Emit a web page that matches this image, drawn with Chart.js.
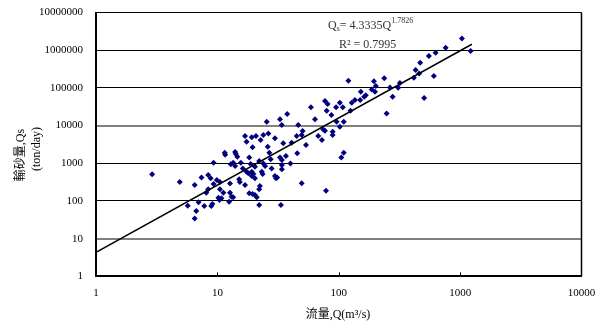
<!DOCTYPE html>
<html lang="zh-Hant">
<head>
<meta charset="UTF-8">
<title>輸砂量與流量關係</title>
<style>
  html, body { margin: 0; padding: 0; background: #fff; }
</style>
</head>
<body>
<canvas id="rating" width="603" height="325"></canvas>

<script src="https://cdn.jsdelivr.net/npm/chart.js"></script>
<script>
  // 流量 Q (m3/s)
  const flowQ = [
    2.9, 4.9, 6.5, 7.4, 8.4, 8.8, 9.3, 9.3, 8.4, 8.1, 5.7, 7.0, 6.7, 6.5, 7.8, 8.9, 9.1,
    11.5, 11.6, 14, 14.2, 14.6, 18.3, 12.9, 13.5, 14, 15.6, 18.8, 20.4, 22.1, 23.9, 26.8, 27.5,
    32.8, 34, 34, 34, 36.7, 40, 45.5, 110, 105, 9.9, 10.5, 12.7, 15.1, 15.3, 16.9, 16.2, 17.4,
    18, 19.2, 19.8, 19.2, 20.4, 23.2, 23.6, 24.7, 28, 29.8, 30.4, 31.1, 22.4, 22.1, 10.5, 11.2,
    12.7, 13.1, 13.5, 10.2, 10.4, 10.8, 12.5, 18.3, 19.5, 20.4, 21.1, 22.1, 33.4, 49.5, 78.5,
    120, 195, 237, 202, 187, 199, 264, 152, 167, 162, 150, 136, 128, 125, 278, 248, 102, 108,
    95, 77, 81, 79.5, 59, 37.6, 63.7, 87, 32.8, 33.9, 25.5, 46.4, 96, 110, 102, 74.5, 77, 89,
    89, 50.4, 45, 67.8, 72.7, 26.3, 23.9, 29.8, 16.9, 17.4, 19.2, 20.8, 22.7, 26, 19.5, 34.9,
    40.9, 53.7, 49.5,
    1035, 1220, 760, 628, 553, 469, 430, 460, 416, 608, 505, 319, 309
  ];
  // 輸砂量 Qs (ton/day)
  const sedimentQs = [
    510, 320, 265, 420, 490, 400, 280, 1030, 205, 165, 75, 92, 54, 34, 73, 73, 83,
    1900, 1680, 2000, 1750, 1490, 1430, 935, 1030, 840, 1030, 950, 810, 1140, 990, 1900, 1270,
    1430, 1220, 900, 690, 1550, 990, 1830, 1900, 1430, 360, 320, 290, 375, 320, 265, 730, 595,
    540, 595, 515, 460, 400, 595, 515, 840, 730, 460, 400, 420, 250, 203, 203, 165,
    165, 129, 125, 122, 106, 117, 95, 160, 152, 143, 125, 78, 78, 295, 186,
    154000, 151000, 179000, 112000, 91000, 79000, 103000, 79000, 64000, 58000, 47500, 47500, 40000, 24700, 58000, 21000, 40000, 30400,
    30400, 44700, 37200, 24700, 30400, 20200, 14600, 19000, 14600, 10300, 12600, 10300, 12600, 12600, 9300, 7900, 7300, 6850,
    5600, 7150, 5270, 5270, 4120, 6200, 5600, 4580, 5270, 3720, 4860, 5270, 4120, 2740, 2640, 3370,
    3500, 3040, 5600,
    2050000, 946000, 1160000, 853000, 698000, 463000, 297000, 242000, 185000, 206000, 53600, 134000, 100600
  ];

  const xTickValues = [1, 10, 100, 1000, 10000];
  const yTickValues = [1, 10, 100, 1000, 10000, 100000, 1000000, 10000000];

  // 迴歸式 Qs = a Q^b
  const fitCoef = 4.3335;
  const fitExp = 1.7826;
  const fitR2 = '0.7995';
  const fitQRange = [1, 1250];

  const SERIF = '"Liberation Serif", "Noto Sans CJK TC", serif';

  const points = flowQ.map((q, i) => ({ x: q, y: sedimentQs[i] }));
  const fitLine = fitQRange.map(q => ({ x: q, y: fitCoef * Math.pow(q, fitExp) }));

  const isGrey = c => c.tick && (c.tick.value === 10 || c.tick.value === 10000);

  // 額外文字: 迴歸式、軸標題、右框線、x軸內刻度
  const decorations = {
    id: 'decorations',
    afterDraw(chart) {
      const ctx = chart.ctx;
      const area = chart.chartArea;
      const xs = chart.scales.x;
      ctx.save();

      ctx.strokeStyle = '#000';
      ctx.lineWidth = 1.5;
      ctx.beginPath();
      ctx.moveTo(area.right, area.top);
      ctx.lineTo(area.right, area.bottom);
      ctx.stroke();

      ctx.lineWidth = 1;
      [10, 100, 1000].forEach(v => {
        const px = Math.round(xs.getPixelForValue(v)) + 0.5;
        ctx.beginPath();
        ctx.moveTo(px, area.bottom);
        ctx.lineTo(px, area.bottom - 4);
        ctx.stroke();
      });

      // 迴歸式
      ctx.fillStyle = '#333';
      ctx.textBaseline = 'alphabetic';
      ctx.textAlign = 'left';
      let x = 328;
      const base = 29;
      ctx.font = '12px ' + SERIF;
      ctx.fillText('Q', x, base);
      x += ctx.measureText('Q').width;
      ctx.font = '8px ' + SERIF;
      ctx.fillText('s', x, base + 2);
      x += ctx.measureText('s').width;
      ctx.font = '12px ' + SERIF;
      const mid = '= ' + fitCoef + 'Q';
      ctx.fillText(mid, x, base);
      x += ctx.measureText(mid).width;
      ctx.font = '8px ' + SERIF;
      ctx.fillText(String(fitExp), x, base - 6);
      ctx.font = '12px ' + SERIF;
      ctx.fillText('R\u00b2 = ' + fitR2, 339, 48);

      // 軸標題
      ctx.fillStyle = '#000';
      ctx.textAlign = 'center';
      ctx.textBaseline = 'middle';
      ctx.font = '12px ' + SERIF;
      ctx.fillText('流量,Q(m\u00b3/s)', 338, 315);

      ctx.translate(21, 155);
      ctx.rotate(-Math.PI / 2);
      ctx.fillText('輸砂量,Qs', 0, 0);
      ctx.fillText('(ton/day)', 6, 16);
      ctx.restore();
    }
  };

  new Chart(document.getElementById('rating'), {
    type: 'scatter',
    data: {
      datasets: [
        {
          data: points,
          pointStyle: 'rectRot',
          pointRadius: 3,
          pointBackgroundColor: '#000080',
          pointBorderColor: '#000080',
          pointBorderWidth: 0,
          order: 2
        },
        {
          type: 'line',
          data: fitLine,
          borderColor: '#000',
          borderWidth: 1.5,
          pointRadius: 0,
          fill: false,
          order: 1
        }
      ]
    },
    options: {
      responsive: false,
      animation: false,
      layout: { padding: { top: 12.5, right: 21.5, bottom: 0, left: 0 } },
      plugins: { legend: { display: false }, tooltip: { enabled: false } },
      scales: {
        x: {
          type: 'logarithmic',
          min: 1,
          max: 10000,
          afterBuildTicks: s => { s.ticks = xTickValues.map(v => ({ value: v })); },
          afterFit: s => { s.height = 48.7; },
          ticks: {
            callback: v => String(v),
            color: '#000',
            font: { family: SERIF, size: 11 },
            padding: 0,
            maxRotation: 0,
            autoSkip: false
          },
          // 透明刻度只用來把標籤推離軸線
          grid: { display: true, drawOnChartArea: false, drawTicks: true, tickLength: 10, tickColor: 'rgba(0,0,0,0)' },
          border: { display: true, color: '#000', width: 2 }
        },
        y: {
          type: 'logarithmic',
          min: 1,
          max: 10000000,
          afterBuildTicks: s => { s.ticks = yTickValues.map(v => ({ value: v })); },
          afterFit: s => { s.width = 96; },
          ticks: {
            callback: v => String(v),
            color: '#000',
            font: { family: SERIF, size: 11 },
            padding: 0,
            autoSkip: false
          },
          grid: {
            drawTicks: true,
            tickLength: 13,
            tickColor: 'rgba(0,0,0,0)',
            color: c => isGrey(c) ? '#808080' : '#000',
            lineWidth: c => isGrey(c) ? 2 : 1
          },
          border: { display: true, color: '#000', width: 2 }
        }
      }
    },
    plugins: [decorations]
  });
</script>
</body>
</html>
